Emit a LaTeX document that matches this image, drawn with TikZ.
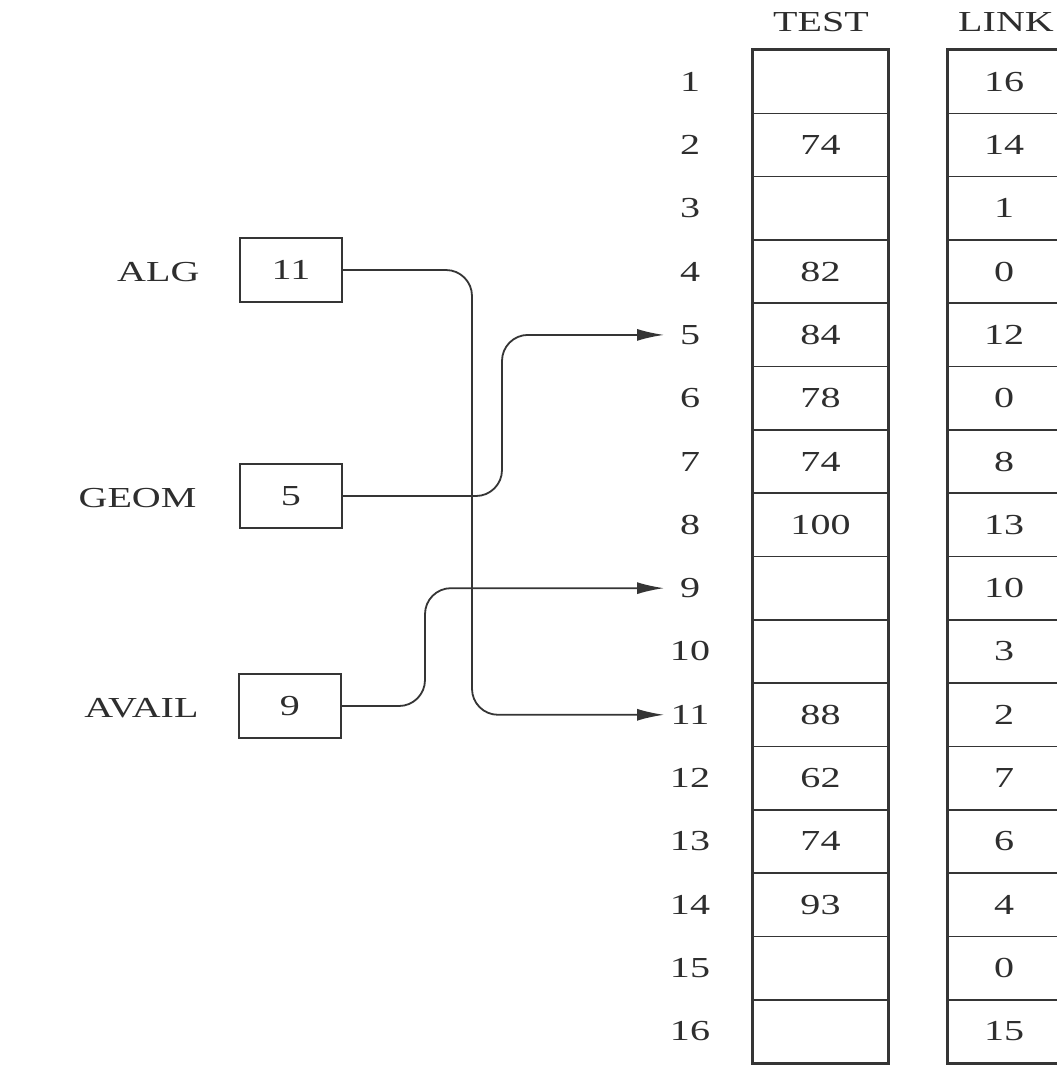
\documentclass[tikz,border=0pt]{standalone}
\usepackage{fontspec}
\setmainfont{Liberation Serif}[FakeStretch=1.38]
\usetikzlibrary{arrows.meta}
\definecolor{ink}{HTML}{353535}
\definecolor{txt}{HTML}{2E2E2E}
\begin{document}
\begin{tikzpicture}[x=1pt,y=-1pt,
  every node/.style={font=\fontsize{29}{32}\selectfont, text=txt},
  cell/.style={draw=ink, line width=1.6pt, minimum height=63.3125pt, inner sep=0pt, anchor=center},
  tcell/.style={cell, minimum width=135pt},
  lcell/.style={cell, minimum width=112pt},
  ptr/.style={draw=ink, line width=1.7pt, minimum width=102pt, minimum height=64pt, inner sep=0pt},
  conn/.style={draw=ink, line width=1.8pt, rounded corners=26pt, -{Latex[length=27pt,width=12pt]}},
  frame/.style={draw=ink, line width=3pt}]
\useasboundingbox (0,0) rectangle (1057,1071);
\fill[white] (0,0) rectangle (1057,1071);

% headers
\node (hT) at (821,22) {TEST};
\node (hL) at (1006,22) {LINK};

% table
\foreach \i/\t/\l in {1//16, 2/74/14, 3//1, 4/82/0, 5/84/12, 6/78/0, 7/74/8, 8/100/13,
  9//10, 10//3, 11/88/2, 12/62/7, 13/74/6, 14/93/4, 15//0, 16//15} {
  \pgfmathsetmacro\yy{50+63.3125*(\i-0.5)}
  \node[tcell] (t\i) at (820.5,\yy) {\t};
  \node[lcell] (l\i) at (1004,\yy) {\l};
  \node (r\i) at (690,\yy) {\i};
  \coordinate (in\i) at (664,\yy);
}
\draw[frame] (t1.north west) rectangle (t16.south east);
\draw[frame] (l1.north west) rectangle (l16.south east);

% pointer variables
\node[ptr] (alg) at (291,270) {11};
\node[anchor=east] (algl) at (203,272) {ALG};
\node[ptr] (geom) at (291,496) {5};
\node[anchor=east] (geoml) at (200,498) {GEOM};
\node[ptr] (avail) at (290,706) {9};
\node[anchor=east] (availl) at (202,708) {AVAIL};

% connectors
\coordinate (ca) at (472,0);
\coordinate (cg) at (502,0);
\coordinate (cv) at (425,0);
\draw[conn] (alg.east) -| (ca |- in11) -- (in11);
\draw[conn] (geom.east) -| (cg |- in5) -- (in5);
\draw[conn] (avail.east) -| (cv |- in9) -- (in9);
\end{tikzpicture}
\end{document}
